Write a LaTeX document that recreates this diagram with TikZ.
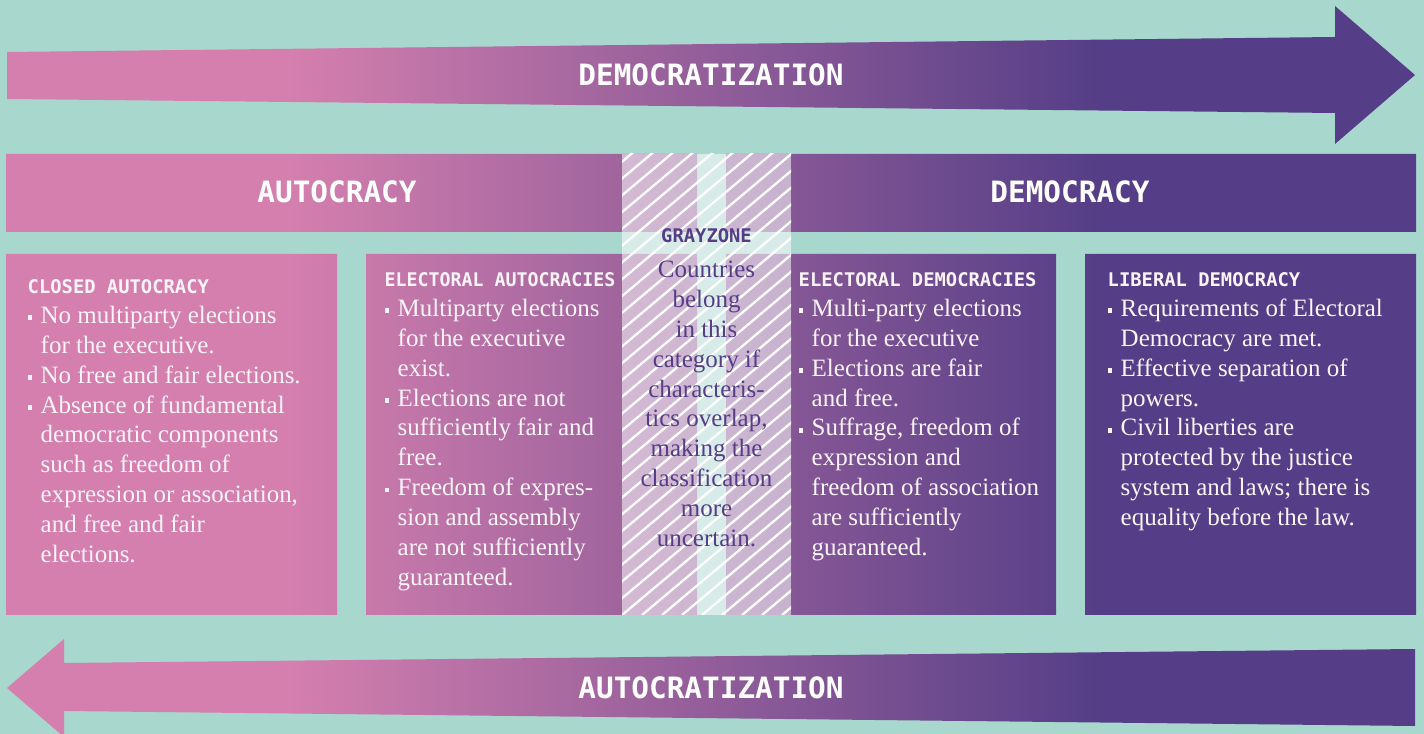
\documentclass[tikz,border=0pt]{standalone}
\usepackage{graphicx}
\usepackage{fontspec}
\setmainfont{Liberation Serif}
\newfontfamily\monofam{DejaVu Sans Mono}

\definecolor{bgteal}{RGB}{168,215,205}
\definecolor{dzpink}{RGB}{212,127,174}
\definecolor{dzpurple}{RGB}{85,62,135}
\definecolor{bodywhite}{RGB}{252,244,248}

% one colour ramp shared by every band and panel
\pgfdeclarehorizontalshading{dzshade}{100bp}{color(0bp)=(dzpink); color(35.2bp)=(dzpink); color(63.6bp)=(dzpurple); color(100bp)=(dzpurple)}

\newcommand\bodyfont{\fontsize{7.1}{8.5}\selectfont}
\newcommand\bigmono{\monofam\bfseries\fontsize{8.35}{10}\selectfont}
\newcommand\boxhead[1]{{\monofam\bfseries\fontsize{5.35}{8.5}\selectfont #1}}
\newcommand\sqb{\makebox[3.7pt][l]{\raisebox{0.95pt}{\rule{1.25pt}{1.3pt}}}}
\newcommand\ind{\hspace*{3.7pt}}

\begin{document}
\begin{tikzpicture}[x=0.01cm,y=-0.01cm,
  boxtext/.style={anchor=base west, inner sep=0pt, text=bodywhite, font=\bodyfont},
  graytext/.style={anchor=base, inner sep=0pt, text=dzpurple, font=\bodyfont},
  bandlabel/.style={inner sep=0pt, text=white, font=\bigmono},
  hatchline/.style={white, line width=0.65pt}]

\fill[bgteal] (0,0) rectangle (1424,734);
\useasboundingbox (0,0) rectangle (1424,734);

% arrows, header bars and panels share a single gradient
\begin{scope}
  \clip (7,52) -- (1335,37) -- (1335,6) -- (1415,75) -- (1335,144) -- (1335,113) -- (7,99) -- cycle
        (6,154) rectangle (697,232)
        (726,154) rectangle (1416,232)
        (6,254) rectangle (337,615)
        (366,254) rectangle (697,615)
        (726,254) rectangle (1056,615)
        (1085,254) rectangle (1416,615)
        (1415,649) -- (64,663) -- (64,639) -- (7,688) -- (64,737) -- (64,711) -- (1415,726) -- cycle;
  \shade[shading=dzshade] (0,0) rectangle (1424,734);
\end{scope}

% grayzone: translucent veil with white hatching
\fill[white, fill opacity=0.55] (622,154) rectangle (791,615);
\begin{scope}
  \clip (622,154) rectangle (791,615);
  \foreach \d in {-580,-560,...,200}
    \draw[hatchline] ({622+\d},615) -- ++(560,-470);
\end{scope}

% band labels
\node[bandlabel] (democratization) at (711,75) {DEMOCRATIZATION};
\node[bandlabel] (autocratization) at (711,688) {AUTOCRATIZATION};
\node[bandlabel] (autocracy) at (337,192) {AUTOCRACY};
\node[bandlabel] (democracy) at (1070,192) {DEMOCRACY};

% panels
\node[boxtext] (closed) at (27,293.5) {\begin{tabular}[t]{@{}l@{}}
\boxhead{CLOSED AUTOCRACY}\\
\sqb No multiparty elections\\
\ind for the executive.\\
\sqb No free and fair elections.\\
\sqb Absence of fundamental\\
\ind democratic components\\
\ind such as freedom of\\
\ind expression or association,\\
\ind and free and fair\\
\ind elections.
\end{tabular}};

\node[boxtext] (elecauto) at (384,286.5) {\begin{tabular}[t]{@{}l@{}}
\scalebox{0.97}[1]{\boxhead{ELECTORAL AUTOCRACIES}}\\
\sqb Multiparty elections\\
\ind for the executive\\
\ind exist.\\
\sqb Elections are not\\
\ind sufficiently fair and\\
\ind free.\\
\sqb Freedom of expres-\\
\ind sion and assembly\\
\ind are not sufficiently\\
\ind guaranteed.
\end{tabular}};

\node[anchor=base, inner sep=0pt, text=dzpurple] (grayhead) at (706.5,242.5) {\boxhead{GRAYZONE}};
\node[graytext] (graybody) at (706.5,277.5) {\begin{tabular}[t]{@{}c@{}}
Countries\\ belong\\ in this\\ category if\\ characteris-\\ tics overlap,\\ making the\\ classification\\ more\\ uncertain.
\end{tabular}};

\node[boxtext] (elecdemo) at (798,286.5) {\begin{tabular}[t]{@{}l@{}}
\boxhead{ELECTORAL DEMOCRACIES}\\
\sqb Multi-party elections\\
\ind for the executive\\
\sqb Elections are fair\\
\ind and free.\\
\sqb Suffrage, freedom of\\
\ind expression and\\
\ind freedom of association\\
\ind are sufficiently\\
\ind guaranteed.
\end{tabular}};

\node[boxtext] (liberal) at (1107,286.5) {\begin{tabular}[t]{@{}l@{}}
\boxhead{LIBERAL DEMOCRACY}\\
\sqb Requirements of Electoral\\
\ind Democracy are met.\\
\sqb Effective separation of\\
\ind powers.\\
\sqb Civil liberties are\\
\ind protected by the justice\\
\ind system and laws; there is\\
\ind equality before the law.
\end{tabular}};

\end{tikzpicture}
\end{document}
